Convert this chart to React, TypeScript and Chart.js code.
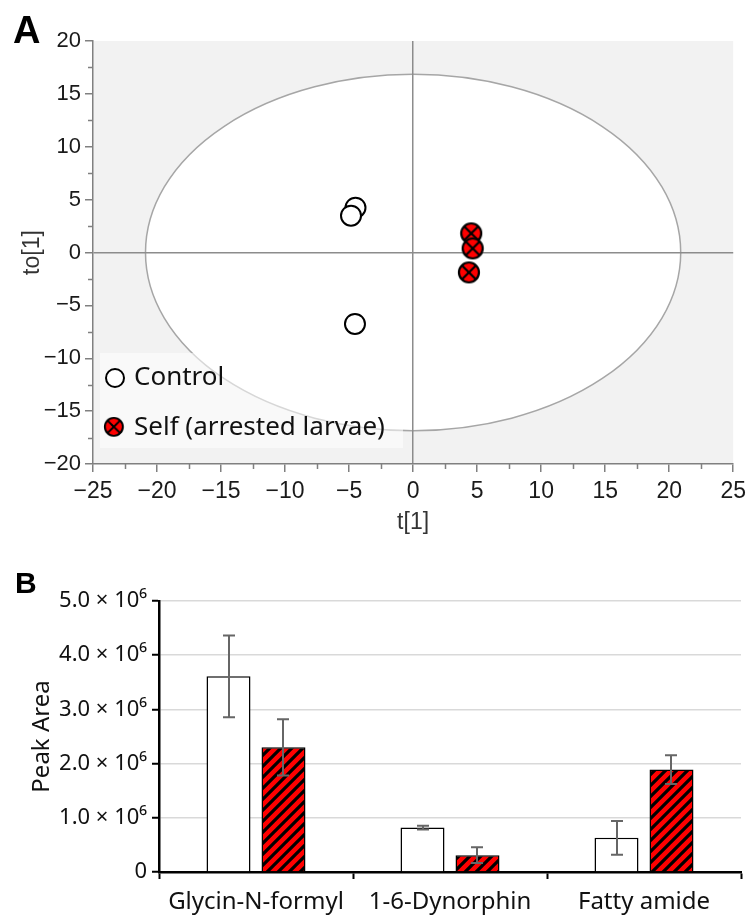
import React, { useEffect, useRef } from 'react';
import { Chart, registerables } from 'chart.js';

Chart.register(...registerables);

// ---------- Panel A data (OPLS-DA scores) ----------
const CONTROL_T = [-4.5, -4.85, -4.54];
const CONTROL_TO = [4.24, 3.48, -6.76];
const SELF_T = [4.54, 4.65, 4.36];
const SELF_TO = [1.81, 0.39, -1.88];
const SERIES_A_LABELS = ['Control', 'Self (arrested larvae)'];
const ELLIPSE_T_RADIUS = 20.9;
const ELLIPSE_TO_RADIUS = 16.85;
const A_MAJOR_STEP = 5;
const A_MINOR_STEP = 2.5;

// ---------- Panel B data ----------
const CATEGORIES = ['Glycin-N-formyl', '1-6-Dynorphin', 'Fatty amide'];
const CONTROL_MEAN = [3.61e6, 0.82e6, 0.63e6];
const CONTROL_ERR = [0.755e6, 0.035e6, 0.31e6];
const SELF_MEAN = [2.3e6, 0.31e6, 1.89e6];
const SELF_ERR = [0.52e6, 0.145e6, 0.265e6];
const B_TICK_LABELS = ['0', '1.0 × 10⁶', '2.0 × 10⁶', '3.0 × 10⁶', '4.0 × 10⁶', '5.0 × 10⁶'];

const ARIAL = '"Liberation Sans", Arial, Helvetica, sans-serif';
const SANS = '"Noto Sans", "Open Sans", sans-serif';

function makeSelfMarker(r: number) {
  const size = Math.ceil(r * 2 + 4);
  const c = document.createElement('canvas');
  c.width = size;
  c.height = size;
  const g = c.getContext('2d')!;
  const m = size / 2;
  g.beginPath();
  g.arc(m, m, r, 0, Math.PI * 2);
  g.fillStyle = '#ff0000';
  g.fill();
  g.lineWidth = 2.2;
  g.strokeStyle = '#000';
  const d = r * Math.SQRT1_2;
  g.beginPath();
  g.moveTo(m - d, m - d);
  g.lineTo(m + d, m + d);
  g.moveTo(m + d, m - d);
  g.lineTo(m - d, m + d);
  g.stroke();
  g.beginPath();
  g.arc(m, m, r, 0, Math.PI * 2);
  g.stroke();
  return c;
}

function makeHatch(ctx: CanvasRenderingContext2D) {
  const s = 11;
  const c = document.createElement('canvas');
  c.width = s;
  c.height = s;
  const g = c.getContext('2d')!;
  g.fillStyle = '#ff0000';
  g.fillRect(0, 0, s, s);
  g.strokeStyle = '#000';
  g.lineWidth = 3.2;
  g.beginPath();
  g.moveTo(-s, s);
  g.lineTo(s, -s);
  g.moveTo(0, s);
  g.lineTo(s, 0);
  g.moveTo(0, 2 * s);
  g.lineTo(2 * s, 0);
  g.stroke();
  return ctx.createPattern(c, 'repeat')!;
}

const minus = (v: number | string) => String(v).replace('-', '−');

export default function App() {
  const refA = useRef<HTMLCanvasElement>(null);
  const refB = useRef<HTMLCanvasElement>(null);

  useEffect(() => {
    const selfMarker = makeSelfMarker(10);

    const bgPlugin = {
      id: 'bgEllipse',
      beforeDraw(chart: any) {
        const { ctx, chartArea: a, scales } = chart;
        ctx.save();
        ctx.fillStyle = '#f2f2f2';
        ctx.fillRect(a.left, a.top, a.right - a.left, a.bottom - a.top);
        const cx = scales.x.getPixelForValue(0);
        const cy = scales.y.getPixelForValue(0);
        const rx = scales.x.getPixelForValue(ELLIPSE_T_RADIUS) - cx;
        const ry = cy - scales.y.getPixelForValue(ELLIPSE_TO_RADIUS);
        ctx.beginPath();
        ctx.ellipse(cx, cy, rx, ry, 0, 0, Math.PI * 2);
        ctx.fillStyle = '#ffffff';
        ctx.fill();
        ctx.lineWidth = 1.5;
        ctx.strokeStyle = '#a6a6a6';
        ctx.stroke();
        ctx.restore();
      },
    };

    const minorTicks = {
      id: 'minorTicks',
      afterDraw(chart: any) {
        const { ctx, scales, chartArea: a } = chart;
        ctx.save();
        ctx.strokeStyle = '#808080';
        ctx.lineWidth = 1.5;
        ctx.beginPath();
        for (let v = scales.x.min + A_MINOR_STEP; v < scales.x.max; v += A_MAJOR_STEP) {
          const px = Math.round(scales.x.getPixelForValue(v)) + 0.5;
          ctx.moveTo(px, a.bottom);
          ctx.lineTo(px, a.bottom + 5);
        }
        for (let v = scales.y.min + A_MINOR_STEP; v < scales.y.max; v += A_MAJOR_STEP) {
          const py = Math.round(scales.y.getPixelForValue(v)) + 0.5;
          ctx.moveTo(a.left, py);
          ctx.lineTo(a.left - 5, py);
        }
        ctx.stroke();
        ctx.restore();
      },
    };

    const legendPlugin = {
      id: 'insideLegend',
      afterDraw(chart: any) {
        const { ctx, chartArea: a } = chart;
        const bx = a.left + 7;
        const by = a.bottom - 111;
        ctx.save();
        ctx.fillStyle = 'rgba(255,255,255,0.55)';
        ctx.fillRect(bx, by, 303, 95);
        const rows = [by + 25, by + 75];
        chart.data.datasets.forEach((ds: any, i: number) => {
          const y = rows[i];
          const x = bx + 15;
          if (i === 0) {
            ctx.beginPath();
            ctx.arc(x, y, 9, 0, Math.PI * 2);
            ctx.fillStyle = '#fff';
            ctx.fill();
            ctx.lineWidth = 2;
            ctx.strokeStyle = '#000';
            ctx.stroke();
          } else {
            ctx.drawImage(selfMarker, x - selfMarker.width / 2, y - selfMarker.height / 2, selfMarker.width * 0.9, selfMarker.height * 0.9);
          }
          ctx.fillStyle = '#111';
          ctx.font = `26px ${SANS}`;
          ctx.textBaseline = 'middle';
          ctx.textAlign = 'left';
          ctx.fillText(ds.label, x + 19, y);
        });
        ctx.restore();
      },
    };

    const chartA = new Chart(refA.current!, {
      type: 'scatter',
      data: {
        datasets: [
          {
            label: SERIES_A_LABELS[0],
            data: CONTROL_T.map((x, i) => ({ x, y: CONTROL_TO[i] })),
            pointStyle: 'circle',
            pointRadius: 10,
            pointBackgroundColor: '#ffffff',
            pointBorderColor: '#000000',
            pointBorderWidth: 2,
          },
          {
            label: SERIES_A_LABELS[1],
            data: SELF_T.map((x, i) => ({ x, y: SELF_TO[i] })),
            pointStyle: selfMarker as any,
            pointRadius: 10,
          },
        ],
      },
      options: {
        animation: false,
        responsive: false,
        devicePixelRatio: 1,
        layout: { padding: { top: 41, right: 17, left: 0, bottom: 0 } },
        plugins: { legend: { display: false }, tooltip: { enabled: false } },
        scales: {
          x: {
            type: 'linear',
            min: -25,
            max: 25,
            ticks: {
              stepSize: A_MAJOR_STEP,
              autoSkip: false,
              maxRotation: 0,
              padding: 6,
              color: '#1a1a1a',
              font: { family: ARIAL, size: 23 },
              callback: (v: any) => minus(v),
            },
            grid: {
              drawOnChartArea: true,
              color: (c: any) => (c.tick && c.tick.value === 0 ? '#8c8c8c' : 'rgba(0,0,0,0)'),
              lineWidth: 1.5,
              tickColor: '#808080',
              tickWidth: 1.5,
              tickLength: 8,
            },
            border: { color: '#808080', width: 1.5 },
            title: {
              display: true,
              text: 't[1]',
              color: '#333',
              font: { family: ARIAL, size: 23 },
              padding: { top: 0, bottom: 9 },
            },
            afterFit: (s: any) => {
              s.height = 81;
            },
          },
          y: {
            type: 'linear',
            min: -20,
            max: 20,
            ticks: {
              stepSize: A_MAJOR_STEP,
              autoSkip: false,
              padding: 4,
              color: '#1a1a1a',
              font: { family: ARIAL, size: 22 },
              callback: (v: any) => minus(v),
            },
            grid: {
              drawOnChartArea: true,
              color: (c: any) => (c.tick && c.tick.value === 0 ? '#8c8c8c' : 'rgba(0,0,0,0)'),
              lineWidth: 1.5,
              tickColor: '#808080',
              tickWidth: 1.5,
              tickLength: 8,
            },
            border: { color: '#808080', width: 1.5 },
            title: {
              display: true,
              text: 'to[1]',
              color: '#333',
              font: { family: ARIAL, size: 23 },
              padding: { top: 19, bottom: 0 },
            },
            afterFit: (s: any) => {
              s.width = 93;
            },
          },
        },
      },
      plugins: [bgPlugin, minorTicks, legendPlugin],
    } as any);

    const ctxB = refB.current!.getContext('2d')!;
    const hatch = makeHatch(ctxB);
    const errs = [CONTROL_ERR, SELF_ERR];

    const errorBars = {
      id: 'errorBars',
      afterDatasetsDraw(chart: any) {
        const { ctx, scales } = chart;
        ctx.save();
        ctx.strokeStyle = '#666666';
        ctx.lineWidth = 2;
        chart.data.datasets.forEach((ds: any, i: number) => {
          const meta = chart.getDatasetMeta(i);
          meta.data.forEach((bar: any, j: number) => {
            const v = ds.data[j];
            const e = errs[i][j];
            const x = Math.round(bar.x);
            const yt = scales.y.getPixelForValue(v + e);
            const yb = scales.y.getPixelForValue(v - e);
            ctx.beginPath();
            ctx.moveTo(x, yt);
            ctx.lineTo(x, yb);
            ctx.moveTo(x - 6, yt);
            ctx.lineTo(x + 6, yt);
            ctx.moveTo(x - 6, yb);
            ctx.lineTo(x + 6, yb);
            ctx.stroke();
          });
        });
        ctx.restore();
      },
    };

    const chartB = new Chart(refB.current!, {
      type: 'bar',
      data: {
        labels: CATEGORIES,
        datasets: [
          {
            label: 'Control',
            data: CONTROL_MEAN,
            backgroundColor: '#ffffff',
            borderColor: '#000000',
            borderWidth: 1.5,
            barPercentage: 0.8,
            categoryPercentage: 0.567,
          },
          {
            label: 'Self (arrested larvae)',
            data: SELF_MEAN,
            backgroundColor: hatch,
            borderColor: '#000000',
            borderWidth: 1.5,
            barPercentage: 0.8,
            categoryPercentage: 0.567,
          },
        ],
      },
      options: {
        animation: false,
        responsive: false,
        devicePixelRatio: 1,
        layout: { padding: { top: 56, right: 11, left: 0, bottom: 0 } },
        plugins: { legend: { display: false }, tooltip: { enabled: false } },
        scales: {
          x: {
            ticks: {
              color: '#111',
              padding: 9,
              maxRotation: 0,
              font: { family: SANS, size: 24 },
            },
            grid: {
              display: true,
              drawOnChartArea: false,
              offset: true,
              tickLength: 7,
              tickColor: '#000',
              tickWidth: 2,
            },
            border: { color: '#000', width: 2.5 },
            afterFit: (s: any) => {
              s.height = 46;
            },
          },
          y: {
            min: 0,
            max: 5e6,
            ticks: {
              stepSize: 1e6,
              color: '#111',
              padding: 5,
              font: { family: SANS, size: 22 },
              callback: (_v: any, i: number) => B_TICK_LABELS[i],
            },
            grid: {
              color: '#d9d9d9',
              lineWidth: 1.5,
              tickColor: '#000',
              tickWidth: 2,
              tickLength: 7,
            },
            border: { color: '#000', width: 2.5 },
            title: {
              display: true,
              text: 'Peak Area',
              color: '#111',
              font: { family: SANS, size: 24 },
              padding: { top: 28, bottom: 0 },
            },
            afterFit: (s: any) => {
              s.width = 159;
            },
          },
        },
      },
      plugins: [errorBars],
    } as any);

    return () => {
      chartA.destroy();
      chartB.destroy();
    };
  }, []);

  return (
    <div style={{ position: 'absolute', left: 0, top: 0, width: 752, height: 918, background: '#fff' }}>
      <canvas ref={refA} width={752} height={545} style={{ position: 'absolute', left: 0, top: 0 }} />
      <canvas ref={refB} width={752} height={373} style={{ position: 'absolute', left: 0, top: 545 }} />
      <div
        style={{
          position: 'absolute',
          left: 13,
          top: 11,
          font: `bold 38px ${ARIAL}`,
          lineHeight: 1,
          color: '#000',
        }}
      >
        A
      </div>
      <div
        style={{
          position: 'absolute',
          left: 15,
          top: 568,
          font: `bold 30px ${ARIAL}`,
          lineHeight: 1,
          color: '#000',
        }}
      >
        B
      </div>
    </div>
  );
}
